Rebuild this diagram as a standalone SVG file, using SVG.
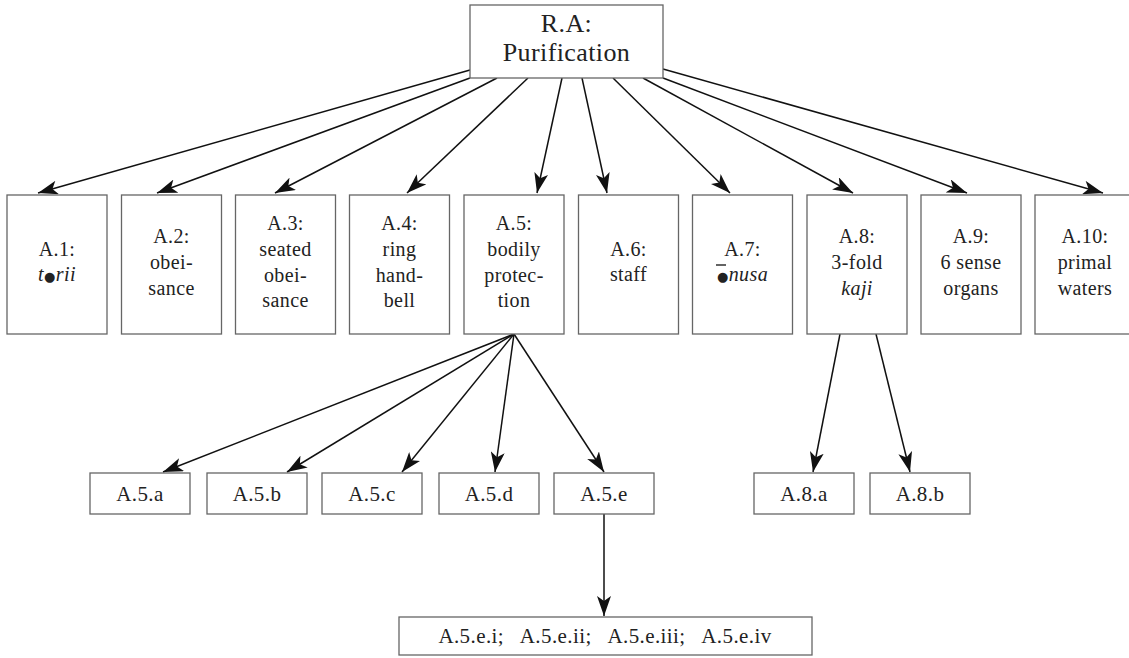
<svg xmlns="http://www.w3.org/2000/svg" width="1129" height="658" viewBox="0 0 1129 658">
  <style>
    .box { fill: #fff; stroke: #666; stroke-width: 1.3; }
    .lbl { font-family: 'Liberation Serif', serif; font-size: 20px; fill: #222; text-anchor: middle; letter-spacing: 0.4px; }
    .sub { font-size: 21px; }
    .top { font-size: 26px; }
    .it { font-style: italic; }
    .dot { font-family: 'DejaVu Sans', sans-serif; font-size: 13px; font-style: normal; }
    .edge { stroke: #111; stroke-width: 1.5; fill: none; marker-end: url(#arrow); }
  </style>
  <defs>
    <marker id="arrow" markerUnits="userSpaceOnUse" markerWidth="20" markerHeight="14" refX="20" refY="7" orient="auto">
      <path d="M0,0 L20,7 L0,14 L5,7 z" fill="#111"/>
    </marker>
  </defs>
  <rect width="1129" height="658" fill="#fff"/>

  <!-- connectors -->
  <g id="connectors">
    <line class="edge" x1="470" y1="70" x2="38" y2="193"/>
    <line class="edge" x1="470" y1="78" x2="157" y2="193"/>
    <line class="edge" x1="497" y1="78" x2="275" y2="193"/>
    <line class="edge" x1="528" y1="78" x2="407" y2="193"/>
    <line class="edge" x1="562" y1="78" x2="537" y2="193"/>
    <line class="edge" x1="582" y1="78" x2="607" y2="193"/>
    <line class="edge" x1="613" y1="78" x2="730" y2="193"/>
    <line class="edge" x1="643" y1="78" x2="853" y2="193"/>
    <line class="edge" x1="663" y1="78" x2="967" y2="193"/>
    <line class="edge" x1="663" y1="69" x2="1103" y2="193"/>

    <line class="edge" x1="514" y1="334" x2="163" y2="472"/>
    <line class="edge" x1="514" y1="334" x2="287" y2="472"/>
    <line class="edge" x1="514" y1="334" x2="402" y2="472"/>
    <line class="edge" x1="514" y1="334" x2="495" y2="472"/>
    <line class="edge" x1="514" y1="334" x2="604" y2="472"/>

    <line class="edge" x1="840" y1="334" x2="813" y2="472"/>
    <line class="edge" x1="876" y1="334" x2="910" y2="472"/>

    <line class="edge" x1="604" y1="514" x2="604" y2="616"/>
  </g>

  <g font-family="Liberation Serif, serif">
  <!-- root -->
  <g id="RA">
    <rect class="box" x="470" y="5" width="193" height="73"/>
    <text class="lbl top" x="566.5" y="32">R.A:</text>
    <text class="lbl top" x="566.5" y="61">Purification</text>
  </g>

  <!-- first level -->
  <g id="A1">
    <rect class="box" x="7" y="195" width="100" height="139"/>
    <text class="lbl" x="57" y="256">A.1:</text>
    <text class="lbl it" x="57" y="281">t<tspan class="dot">●</tspan>rii</text>
  </g>
  <g id="A2">
    <rect class="box" x="121.5" y="195" width="100" height="139"/>
    <text class="lbl" x="171.5" y="243">A.2:</text>
    <text class="lbl" x="171.5" y="269">obei-</text>
    <text class="lbl" x="171.5" y="295">sance</text>
  </g>
  <g id="A3">
    <rect class="box" x="235.5" y="195" width="100" height="139"/>
    <text class="lbl" x="285.5" y="230">A.3:</text>
    <text class="lbl" x="285.5" y="256">seated</text>
    <text class="lbl" x="285.5" y="282">obei-</text>
    <text class="lbl" x="285.5" y="307">sance</text>
  </g>
  <g id="A4">
    <rect class="box" x="349.5" y="195" width="100" height="139"/>
    <text class="lbl" x="399.5" y="230">A.4:</text>
    <text class="lbl" x="399.5" y="256">ring</text>
    <text class="lbl" x="399.5" y="282">hand-</text>
    <text class="lbl" x="399.5" y="307">bell</text>
  </g>
  <g id="A5">
    <rect class="box" x="464" y="195" width="100" height="139"/>
    <text class="lbl" x="514" y="230">A.5:</text>
    <text class="lbl" x="514" y="256">bodily</text>
    <text class="lbl" x="514" y="282">protec-</text>
    <text class="lbl" x="514" y="307">tion</text>
  </g>
  <g id="A6">
    <rect class="box" x="578.5" y="195" width="100" height="139"/>
    <text class="lbl" x="628.5" y="256">A.6:</text>
    <text class="lbl" x="628.5" y="281">staff</text>
  </g>
  <g id="A7">
    <rect class="box" x="692.5" y="195" width="100" height="139"/>
    <text class="lbl" x="742.5" y="256">A.7:</text>
    <text class="lbl it" x="742.5" y="281"><tspan class="dot">●</tspan>nusa</text>
    <!-- macron over the first letter -->
    <line x1="716" y1="265" x2="726" y2="265" stroke="#222" stroke-width="1.4"/>
  </g>
  <g id="A8">
    <rect class="box" x="807" y="195" width="100" height="139"/>
    <text class="lbl" x="857" y="243">A.8:</text>
    <text class="lbl" x="857" y="269">3-fold</text>
    <text class="lbl it" x="857" y="295">kaji</text>
  </g>
  <g id="A9">
    <rect class="box" x="921" y="195" width="100" height="139"/>
    <text class="lbl" x="971" y="243">A.9:</text>
    <text class="lbl" x="971" y="269">6 sense</text>
    <text class="lbl" x="971" y="295">organs</text>
  </g>
  <g id="A10">
    <rect class="box" x="1035" y="195" width="100" height="139"/>
    <text class="lbl" x="1085" y="243">A.10:</text>
    <text class="lbl" x="1085" y="269">primal</text>
    <text class="lbl" x="1085" y="295">waters</text>
  </g>

  <!-- second level -->
  <g id="A5a">
    <rect class="box" x="90" y="473" width="100" height="41"/>
    <text class="lbl sub" x="140" y="501">A.5.a</text>
  </g>
  <g id="A5b">
    <rect class="box" x="207" y="473" width="100" height="41"/>
    <text class="lbl sub" x="257" y="501">A.5.b</text>
  </g>
  <g id="A5c">
    <rect class="box" x="322" y="473" width="100" height="41"/>
    <text class="lbl sub" x="372" y="501">A.5.c</text>
  </g>
  <g id="A5d">
    <rect class="box" x="439" y="473" width="100" height="41"/>
    <text class="lbl sub" x="489" y="501">A.5.d</text>
  </g>
  <g id="A5e">
    <rect class="box" x="554" y="473" width="100" height="41"/>
    <text class="lbl sub" x="604" y="501">A.5.e</text>
  </g>
  <g id="A8a">
    <rect class="box" x="754" y="473" width="100" height="41"/>
    <text class="lbl sub" x="804" y="501">A.8.a</text>
  </g>
  <g id="A8b">
    <rect class="box" x="870" y="473" width="100" height="41"/>
    <text class="lbl sub" x="920" y="501">A.8.b</text>
  </g>

  <!-- third level -->
  <g id="A5e-items">
    <rect class="box" x="399" y="617" width="413" height="38"/>
    <text class="lbl sub" x="605" y="643" xml:space="preserve">A.5.e.i;   A.5.e.ii;   A.5.e.iii;   A.5.e.iv</text>
  </g>
  </g>
</svg>
